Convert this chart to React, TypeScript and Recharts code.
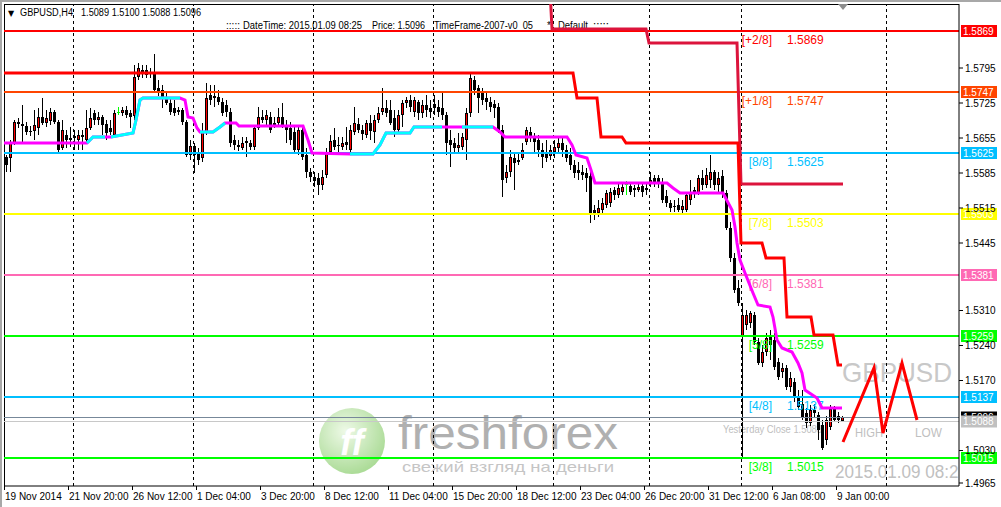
import React from 'react';
import { ComposedChart, Bar, Line, XAxis, YAxis, ReferenceLine } from 'recharts';

const FONT = "'Liberation Sans', Arial, sans-serif";

// GBPUSD H4 bars, 19 Nov 2014 .. 9 Jan 2015
const openP = [
  1.5617, 1.5615, 1.5645, 1.5687, 1.5683, 1.5679, 1.5667, 1.5669, 1.5675, 1.5697,
  1.5685, 1.5689, 1.5707, 1.5687, 1.5635, 1.5661, 1.5651, 1.5655, 1.5651, 1.5661,
  1.5651, 1.5675, 1.5705, 1.5691, 1.5697, 1.5683, 1.5675, 1.5661, 1.5707, 1.5705,
  1.5711, 1.5705, 1.5699, 1.5777, 1.5791, 1.5791, 1.5787, 1.5785, 1.5755, 1.5751,
  1.5737, 1.5725, 1.5715, 1.5707, 1.5711, 1.5687, 1.5621, 1.5639, 1.5627, 1.5615,
  1.5667, 1.5741, 1.5735, 1.5737, 1.5727, 1.5721, 1.5707, 1.5651, 1.5641, 1.5635,
  1.5649, 1.5645, 1.5637, 1.5675, 1.5697, 1.5691, 1.5697, 1.5681, 1.5685, 1.5697,
  1.5681, 1.5675, 1.5667, 1.5631, 1.5671, 1.5621, 1.5587, 1.5577, 1.5575, 1.5561,
  1.5581, 1.5627, 1.5651, 1.5641, 1.5637, 1.5647, 1.5631, 1.5667, 1.5683, 1.5671,
  1.5661, 1.5685, 1.5667, 1.5691, 1.5707, 1.5715, 1.5711, 1.5695, 1.5671, 1.5701,
  1.5725, 1.5731, 1.5707, 1.5727, 1.5705, 1.5721, 1.5715, 1.5723, 1.5717, 1.5715,
  1.5701, 1.5651, 1.5645, 1.5635, 1.5637, 1.5651, 1.5705, 1.5771, 1.5755, 1.5745,
  1.5735, 1.5727, 1.5723, 1.5717, 1.5671, 1.5575, 1.5587, 1.5615, 1.5611, 1.5615,
  1.5647, 1.5667, 1.5657, 1.5651, 1.5631, 1.5627, 1.5619, 1.5627, 1.5635, 1.5645,
  1.5631, 1.5621, 1.5601, 1.5591, 1.5587, 1.5585, 1.5579, 1.5511, 1.5505, 1.5511,
  1.5521, 1.5525, 1.5551, 1.5541, 1.5547, 1.5563, 1.5559, 1.5555, 1.5551, 1.5559,
  1.5555, 1.5565, 1.5575, 1.5575, 1.5567, 1.5539, 1.5525, 1.5519, 1.5521, 1.5511,
  1.5511, 1.5531, 1.5551, 1.5545, 1.5575, 1.5561, 1.5571, 1.5587, 1.5561, 1.5579,
  1.5545, 1.5475, 1.5415, 1.5355, 1.5257, 1.5281, 1.5285, 1.5301, 1.5247, 1.5205,
  1.5227, 1.5259, 1.5251, 1.5207, 1.5187, 1.5195, 1.5157, 1.5167, 1.5139, 1.5123,
  1.5105, 1.5085, 1.5111, 1.5101, 1.5081, 1.5051, 1.5077, 1.5113, 1.5099, 1.5089,
];
const highP = [
  1.5621, 1.5651, 1.5691, 1.5695, 1.5721, 1.5687, 1.5679, 1.5711, 1.5715, 1.5735,
  1.5711, 1.5715, 1.5711, 1.5691, 1.5691, 1.5671, 1.5677, 1.5671, 1.5671, 1.5671,
  1.5711, 1.5715, 1.5711, 1.5707, 1.5701, 1.5691, 1.5691, 1.5711, 1.5717, 1.5717,
  1.5719, 1.5711, 1.5801, 1.5805, 1.5801, 1.5801, 1.5795, 1.5823, 1.5771, 1.5761,
  1.5745, 1.5735, 1.5731, 1.5717, 1.5715, 1.5691, 1.5651, 1.5645, 1.5635, 1.5685,
  1.5765, 1.5761, 1.5761, 1.5751, 1.5735, 1.5731, 1.5715, 1.5661, 1.5651, 1.5657,
  1.5657, 1.5651, 1.5681, 1.5717, 1.5711, 1.5711, 1.5707, 1.5697, 1.5715, 1.5725,
  1.5691, 1.5687, 1.5681, 1.5681, 1.5681, 1.5635, 1.5595, 1.5587, 1.5585, 1.5591,
  1.5635, 1.5661, 1.5675, 1.5657, 1.5657, 1.5677, 1.5681, 1.5717, 1.5695, 1.5681,
  1.5691, 1.5701, 1.5701, 1.5717, 1.5755, 1.5731, 1.5731, 1.5711, 1.5711, 1.5731,
  1.5737, 1.5741, 1.5737, 1.5731, 1.5731, 1.5741, 1.5731, 1.5741, 1.5731, 1.5745,
  1.5707, 1.5671, 1.5655, 1.5665, 1.5665, 1.5715, 1.5785, 1.5779, 1.5761, 1.5755,
  1.5745, 1.5737, 1.5731, 1.5725, 1.5681, 1.5601, 1.5631, 1.5627, 1.5625, 1.5645,
  1.5677, 1.5677, 1.5665, 1.5661, 1.5645, 1.5651, 1.5641, 1.5651, 1.5657, 1.5655,
  1.5641, 1.5635, 1.5611, 1.5607, 1.5601, 1.5595, 1.5587, 1.5521, 1.5531, 1.5535,
  1.5551, 1.5555, 1.5557, 1.5565, 1.5565, 1.5569, 1.5565, 1.5561, 1.5563, 1.5567,
  1.5565, 1.5587, 1.5581, 1.5581, 1.5575, 1.5551, 1.5531, 1.5531, 1.5535, 1.5531,
  1.5545, 1.5571, 1.5557, 1.5581, 1.5591, 1.5595, 1.5621, 1.5591, 1.5587, 1.5591,
  1.5551, 1.5487, 1.5425, 1.5371, 1.5325, 1.5311, 1.5309, 1.5307, 1.5255, 1.5241,
  1.5265, 1.5271, 1.5265, 1.5215, 1.5205, 1.5201, 1.5187, 1.5175, 1.5151, 1.5151,
  1.5115, 1.5121, 1.5123, 1.5107, 1.5091, 1.5099, 1.5121, 1.5119, 1.5107, 1.5100,
];
const lowP = [
  1.5587, 1.5587, 1.5641, 1.5675, 1.5645, 1.5661, 1.5659, 1.5651, 1.5661, 1.5681,
  1.5677, 1.5681, 1.5683, 1.5627, 1.5631, 1.5635, 1.5637, 1.5631, 1.5631, 1.5631,
  1.5645, 1.5671, 1.5681, 1.5681, 1.5661, 1.5651, 1.5661, 1.5657, 1.5701, 1.5699,
  1.5695, 1.5675, 1.5691, 1.5771, 1.5775, 1.5775, 1.5775, 1.5747, 1.5739, 1.5715,
  1.5721, 1.5701, 1.5699, 1.5701, 1.5681, 1.5617, 1.5611, 1.5585, 1.5601, 1.5607,
  1.5661, 1.5721, 1.5717, 1.5721, 1.5699, 1.5697, 1.5637, 1.5631, 1.5629, 1.5631,
  1.5617, 1.5631, 1.5631, 1.5671, 1.5685, 1.5677, 1.5665, 1.5675, 1.5681, 1.5675,
  1.5645, 1.5641, 1.5625, 1.5621, 1.5611, 1.5575, 1.5567, 1.5557, 1.5541, 1.5551,
  1.5575, 1.5621, 1.5631, 1.5627, 1.5631, 1.5631, 1.5627, 1.5661, 1.5665, 1.5651,
  1.5655, 1.5651, 1.5645, 1.5685, 1.5701, 1.5697, 1.5681, 1.5657, 1.5665, 1.5677,
  1.5715, 1.5707, 1.5697, 1.5691, 1.5695, 1.5697, 1.5695, 1.5701, 1.5697, 1.5691,
  1.5621, 1.5597, 1.5627, 1.5625, 1.5631, 1.5611, 1.5697, 1.5741, 1.5705, 1.5721,
  1.5711, 1.5707, 1.5695, 1.5665, 1.5537, 1.5565, 1.5577, 1.5551, 1.5601, 1.5611,
  1.5641, 1.5647, 1.5625, 1.5617, 1.5595, 1.5607, 1.5611, 1.5615, 1.5627, 1.5617,
  1.5607, 1.5591, 1.5575, 1.5571, 1.5571, 1.5547, 1.5485, 1.5491, 1.5497, 1.5501,
  1.5515, 1.5517, 1.5531, 1.5535, 1.5541, 1.5541, 1.5541, 1.5537, 1.5547, 1.5537,
  1.5541, 1.5557, 1.5557, 1.5555, 1.5525, 1.5517, 1.5507, 1.5507, 1.5507, 1.5505,
  1.5507, 1.5521, 1.5535, 1.5541, 1.5551, 1.5555, 1.5555, 1.5551, 1.5547, 1.5535,
  1.5471, 1.5407, 1.5345, 1.5319, 1.5017, 1.5271, 1.5275, 1.5241, 1.5201, 1.5197,
  1.5219, 1.5211, 1.5191, 1.5171, 1.5175, 1.5151, 1.5147, 1.5127, 1.5111, 1.5091,
  1.5075, 1.5079, 1.5097, 1.5051, 1.5031, 1.5041, 1.5071, 1.5087, 1.5085, 1.5088,
];
const closeP = [
  1.5601, 1.5645, 1.5687, 1.5683, 1.5679, 1.5667, 1.5669, 1.5681, 1.5697, 1.5685,
  1.5695, 1.5707, 1.5687, 1.5631, 1.5671, 1.5651, 1.5655, 1.5659, 1.5661, 1.5657,
  1.5675, 1.5695, 1.5691, 1.5697, 1.5681, 1.5665, 1.5667, 1.5705, 1.5707, 1.5711,
  1.5701, 1.5697, 1.5777, 1.5795, 1.5783, 1.5781, 1.5783, 1.5751, 1.5747, 1.5737,
  1.5725, 1.5707, 1.5705, 1.5711, 1.5687, 1.5621, 1.5639, 1.5621, 1.5611, 1.5667,
  1.5735, 1.5731, 1.5739, 1.5727, 1.5705, 1.5707, 1.5645, 1.5641, 1.5637, 1.5645,
  1.5645, 1.5637, 1.5675, 1.5697, 1.5691, 1.5701, 1.5671, 1.5685, 1.5697, 1.5681,
  1.5671, 1.5651, 1.5631, 1.5671, 1.5617, 1.5587, 1.5577, 1.5569, 1.5561, 1.5577,
  1.5627, 1.5649, 1.5637, 1.5639, 1.5645, 1.5641, 1.5671, 1.5685, 1.5671, 1.5663,
  1.5685, 1.5669, 1.5691, 1.5705, 1.5715, 1.5705, 1.5685, 1.5671, 1.5701, 1.5725,
  1.5731, 1.5717, 1.5731, 1.5705, 1.5721, 1.5711, 1.5707, 1.5715, 1.5707, 1.5701,
  1.5645, 1.5641, 1.5635, 1.5641, 1.5657, 1.5705, 1.5775, 1.5751, 1.5735, 1.5731,
  1.5727, 1.5717, 1.5715, 1.5671, 1.5571, 1.5587, 1.5617, 1.5605, 1.5607, 1.5631,
  1.5671, 1.5655, 1.5647, 1.5631, 1.5617, 1.5615, 1.5631, 1.5637, 1.5645, 1.5631,
  1.5615, 1.5601, 1.5585, 1.5585, 1.5581, 1.5575, 1.5505, 1.5505, 1.5515, 1.5525,
  1.5545, 1.5547, 1.5541, 1.5555, 1.5557, 1.5563, 1.5547, 1.5551, 1.5557, 1.5547,
  1.5551, 1.5571, 1.5567, 1.5567, 1.5531, 1.5525, 1.5515, 1.5517, 1.5511, 1.5519,
  1.5541, 1.5547, 1.5545, 1.5575, 1.5561, 1.5581, 1.5587, 1.5561, 1.5575, 1.5545,
  1.5475, 1.5415, 1.5351, 1.5325, 1.5301, 1.5301, 1.5305, 1.5247, 1.5205, 1.5227,
  1.5255, 1.5241, 1.5197, 1.5177, 1.5195, 1.5157, 1.5175, 1.5135, 1.5117, 1.5097,
  1.5085, 1.5111, 1.5105, 1.5071, 1.5035, 1.5091, 1.5113, 1.5091, 1.5091, 1.5096,
];

const dateLabels = [
  '19 Nov 2014', '21 Nov 20:00', '26 Nov 12:00', '1 Dec 04:00', '3 Dec 20:00', '8 Dec 12:00', '11 Dec 04:00',
  '15 Dec 20:00', '18 Dec 12:00', '23 Dec 04:00', '26 Dec 20:00', '31 Dec 12:00', '6 Jan 08:00', '9 Jan 00:00',
];
const dateBars = [0, 16, 32, 48, 64, 80, 96, 112, 128, 144, 160, 176, 192, 208];
const separatorBars = [17.25, 47.25, 77.25, 107.25, 137.25, 161.25, 184.25, 220.5];
const priceTicks = [1.5795, 1.5725, 1.5655, 1.5585, 1.5515, 1.5445, 1.531, 1.524, 1.517, 1.503, 1.4965];

// Murrey Math levels
const murreyPrices = [1.5869, 1.5747, 1.5625, 1.5503, 1.5381, 1.5259, 1.5137, 1.5015];
const murreyTags = ['[+2/8]', '[+1/8]', '[8/8]', '[7/8]', '[6/8]', '[5/8]', '[4/8]', '[3/8]'];
const murreyColors = ['#ff0000', '#ff4500', '#00bfff', '#ffff00', '#ff69b4', '#00ff00', '#00bfff', '#00ff00'];

const bidPrice = 1.5096;
const yesterdayClose = 1.5088;

// trend line: magenta while falling, cyan while rising
const trendBars = [
  0, 20.75, 22.25, 25.25, 26.75, 32.25, 33, 34, 34.75, 44, 45.25, 46, 47.25, 48.25, 49, 52.25, 54, 55.25, 58, 58.75,
  74.75, 76, 77, 86.5, 92.25, 94, 95.5, 101.5, 102.5, 109.5, 114.5, 122.25, 124, 125.25, 140.75, 142, 143, 145.75,
  146.75, 147.75, 165.75, 167.25, 169, 179.75, 182, 182.75, 183.25, 184, 185.25, 187.25, 188.5, 191.5, 192.25,
  193.25, 194.5, 197, 198.5, 199.5, 200.25, 203.25, 204.5, 209.5,
];
const trendPrices = [
  1.5645, 1.5645, 1.5657, 1.5657, 1.5657, 1.5665, 1.5691, 1.5731, 1.5735, 1.5735, 1.5731, 1.5697, 1.5695, 1.5675,
  1.5667, 1.5667, 1.5677, 1.5685, 1.5685, 1.5679, 1.5679, 1.5651, 1.5625, 1.5623, 1.5623, 1.5641, 1.5665, 1.5665,
  1.5677, 1.5677, 1.5677, 1.5677, 1.5667, 1.5657, 1.5657, 1.5641, 1.5621, 1.5615, 1.5591, 1.5565, 1.5565, 1.5555,
  1.5545, 1.5545, 1.5511, 1.5477, 1.5445, 1.5411, 1.5385, 1.5345, 1.5321, 1.5317, 1.5297, 1.5251, 1.5235, 1.5227,
  1.5205, 1.5185, 1.5151, 1.5135, 1.5115, 1.5115,
];
const trendUpRuns = [[1, 3], [4, 9], [14, 17], [23, 29], [30, 31]];

// trailing stop lines
const stopBars = [0, 142.25, 143.25, 148.25, 149.25, 154.5, 155.5, 183.5, 184.25, 189.5, 190.5, 195, 195.75, 201.75, 202.5, 207.25, 208.5, 209.5];
const stopPrices = [1.5785, 1.5785, 1.5735, 1.5735, 1.5657, 1.5657, 1.5645, 1.5645, 1.5445, 1.5445, 1.5415, 1.5415, 1.5297, 1.5297, 1.5261, 1.5261, 1.5201, 1.5201];
const upperBars = [136.5, 137, 160.5, 161.25, 183.25, 184.25, 209.75];
const upperPrices = [1.5951, 1.5873, 1.5873, 1.5845, 1.5845, 1.5563, 1.5563];

// HIGH / LOW zigzag sign
const zigBars = [209.75, 217.5, 219.75, 224.5, 228.25];
const zigPrices = [1.5047, 1.5195, 1.5065, 1.5205, 1.5091];

const candles = closeP.map((c, i) => ({
  v: i + 0.5, range: [lowP[i], highP[i]], o: openP[i], h: highP[i], l: lowP[i], c,
}));
const toPts = (bars: number[], prices: number[]) => bars.map((v, i) => ({ v, p: prices[i] }));
const trendData = toPts(trendBars, trendPrices);

const CandleShape = (props: any) => {
  const { x, width, payload } = props;
  let { y, height } = props;
  if (height < 0) { y += height; height = -height; }
  const { o, h, l, c } = payload;
  const cx = Math.round(x + width / 2);
  const k = h === l ? 0 : height / (h - l);
  const yO = y + (h - o) * k;
  const yC = y + (h - c) * k;
  const top = Math.round(Math.min(yO, yC));
  let bot = Math.round(Math.max(yO, yC));
  if (bot - top < 1) bot = top + 1;
  const doji = o === c;
  return (
    <g shapeRendering="crispEdges">
      <rect x={cx} y={Math.round(y)} width={1} height={Math.max(1, Math.round(height))} fill={doji ? '#00ff00' : '#000'} />
      {doji ? (
        <rect x={cx - 1} y={top} width={3} height={1} fill="#00ff00" />
      ) : (
        <>
          <rect x={cx - 1} y={top} width={3} height={bot - top} fill="#000" />
          {c > o && bot - top > 2 && <rect x={cx} y={top + 1} width={1} height={bot - top - 2} fill="#ff0000" />}
        </>
      )}
    </g>
  );
};

const LevelLabel = (props: any) => {
  const { viewBox, tag, price, color, boxColor } = props;
  if (!viewBox) return null;
  const { x, y, width } = viewBox;
  return (
    <g fontFamily={FONT}>
      {tag && <text x={x + 768} y={y + 12.5} fontSize={12} fill={color} textAnchor="end">{tag}</text>}
      {tag && <text x={x + 783} y={y + 12.5} fontSize={12} fill={color}>{price.toFixed(4)}</text>}
      <rect x={x + width + 2} y={y - 6} width={36} height={12} fill={boxColor} />
      <text x={x + width + 4} y={y + 3.5} fontSize={10} fill="#fff">{price.toFixed(4)}</text>
    </g>
  );
};

const DateTick = (props: any) => {
  const { x, y, index } = props;
  return (
    <g>
      <line x1={Math.round(x) - 1.5} x2={Math.round(x) - 1.5} y1={y - 4} y2={y} stroke="#000" />
      <text x={x - 1} y={y + 10} fontSize={10} fontFamily={FONT} fill="#000">{dateLabels[index]}</text>
    </g>
  );
};

const PriceTick = (props: any) => (
  <text x={props.x} y={props.y} dy={3.5} fontSize={10} fontFamily={FONT} fill="#000" textAnchor="start">
    {Number(props.payload.value).toFixed(4)}
  </text>
);

const Backdrop = () => (
  <svg width={1001} height={507} style={{ position: 'absolute', left: 0, top: 0 }} fontFamily={FONT}>
    <defs>
      <clipPath id="plotClip"><rect x={4} y={4} width={955} height={482} /></clipPath>
      <radialGradient id="ffBall" cx="40%" cy="35%" r="70%">
        <stop offset="0%" stopColor="#e4f6d8" />
        <stop offset="100%" stopColor="#6fc24c" />
      </radialGradient>
    </defs>
    <rect width={1001} height={507} fill="#fff" />
    <rect x={0} y={0} width={1001} height={2} fill="#a8a8a8" />
    <rect x={0} y={0} width={2} height={507} fill="#a8a8a8" />
    <line x1={4} x2={959} y1={4.5} y2={4.5} stroke="#000" />
    <line x1={4.5} x2={4.5} y1={4} y2={486} stroke="#000" />
    <polygon points="838,4 848,4 843,10" fill="#8c8c8c" />
    <text x={8} y={16} fontSize={8} fontFamily="DejaVu Sans" fill="#000">▼</text>
    <text x={20} y={16} fontSize={10} fill="#000" textLength={53} lengthAdjust="spacingAndGlyphs">GBPUSD,H4</text>
    <text x={81} y={16} fontSize={10} fill="#000" textLength={120} lengthAdjust="spacingAndGlyphs">1.5089 1.5100 1.5088 1.5096</text>
    <g fontSize={10} fill="#000">
      <text x={226} y={29} textLength={14} lengthAdjust="spacingAndGlyphs">:::::</text>
      <text x={243} y={29} textLength={119} lengthAdjust="spacingAndGlyphs">DateTime: 2015.01.09 08:25</text>
      <text x={372} y={29} textLength={53} lengthAdjust="spacingAndGlyphs">Price: 1.5096</text>
      <text x={434} y={29} textLength={99} lengthAdjust="spacingAndGlyphs">TimeFrame-2007-v0_05</text>
      <text x={547} y={29}>*</text>
      <text x={558} y={29} textLength={30} lengthAdjust="spacingAndGlyphs">Default</text>
      <text x={593} y={29} textLength={16} lengthAdjust="spacingAndGlyphs">:::::</text>
    </g>
    <g clipPath="url(#plotClip)">
      <g opacity={0.6}>
        <circle cx={352} cy={441} r={33} fill="url(#ffBall)" />
        <text x={352} y={455} fontSize={36} fontStyle="italic" fontWeight="bold" fill="#fff" textAnchor="middle">ff</text>
        <text x={398} y={449} fontSize={46} fill="#7c7c7c" textLength={220} lengthAdjust="spacingAndGlyphs">freshforex</text>
        <text x={402} y={472} fontSize={15} fill="#a0a0a0" textLength={212} lengthAdjust="spacingAndGlyphs">свежий взгляд на деньги</text>
      </g>
      <text x={723} y={433} fontSize={11} fill="#c0c0c0" textLength={99} lengthAdjust="spacingAndGlyphs">Yesterday Close 1.5088</text>
      <text x={842} y={382} fontSize={28} fill="#c8c8c8" textLength={110} lengthAdjust="spacingAndGlyphs">GBPUSD</text>
      <text x={855} y={437} fontSize={13} fill="#c0c0c0" textLength={28} lengthAdjust="spacingAndGlyphs">HIGH</text>
      <text x={915} y={437} fontSize={13} fill="#c0c0c0" textLength={27} lengthAdjust="spacingAndGlyphs">LOW</text>
      <text x={835} y={478} fontSize={18} fill="#c0c0c0" textLength={133} lengthAdjust="spacingAndGlyphs">2015.01.09 08:25</text>
    </g>
  </svg>
);

export default function App() {
  return (
    <div style={{ position: 'absolute', left: 0, top: 0, width: 1001, height: 507, overflow: 'hidden', background: '#fff' }}>
      <Backdrop />
      <div style={{ position: 'absolute', left: 0, top: 0 }}>
        <ComposedChart width={1001} height={507} data={candles} margin={{ top: 4, right: 0, bottom: 0, left: 4 }}>
          <XAxis
            dataKey="v" type="number" domain={[0, 238.75]} allowDataOverflow
            ticks={dateBars.map((b) => b + 0.5)} interval={0} height={21}
            tickLine={false} tickSize={4} tickMargin={0} axisLine={{ stroke: '#000' }}
            tick={(p: any) => <DateTick {...p} />}
          />
          <YAxis
            orientation="right" type="number" domain={[1.4959, 1.5923]} allowDataOverflow
            ticks={priceTicks} interval={0} width={42} tickSize={4} tickMargin={2}
            axisLine={{ stroke: '#000' }} tickLine={{ stroke: '#000' }}
            tick={(p: any) => <PriceTick {...p} />}
          />
          {separatorBars.map((v) => (
            <ReferenceLine key={'s' + v} x={v} stroke="#000" strokeDasharray="3 3" shapeRendering="crispEdges" />
          ))}
          <Bar dataKey="range" barSize={3} shape={(p: any) => <CandleShape {...p} />} isAnimationActive={false} />
          {murreyPrices.map((p, i) => (
            <ReferenceLine
              key={'m' + i} y={p} stroke={murreyColors[i]} strokeWidth={2}
              label={<LevelLabel tag={murreyTags[i]} price={p} color={murreyColors[i]} boxColor={murreyColors[i]} />}
            />
          ))}
          <ReferenceLine y={bidPrice} stroke="#778899" label={<LevelLabel price={bidPrice} boxColor="#000" />} />
          <ReferenceLine y={yesterdayClose} stroke="#c8c8c8" label={<LevelLabel price={yesterdayClose} boxColor="#c0c0c0" />} />
          <Line data={toPts(upperBars, upperPrices)} dataKey="p" type="linear" stroke="#dc143c" strokeWidth={3} dot={false} activeDot={false} isAnimationActive={false} />
          <Line data={toPts(stopBars, stopPrices)} dataKey="p" type="linear" stroke="#ff0000" strokeWidth={3} dot={false} activeDot={false} isAnimationActive={false} />
          <Line data={trendData} dataKey="p" type="linear" stroke="#ff00ff" strokeWidth={3} dot={false} activeDot={false} isAnimationActive={false} />
          {trendUpRuns.map(([a, b]) => (
            <Line key={'u' + a} data={trendData.slice(a, b + 1)} dataKey="p" type="linear" stroke="#00ffff" strokeWidth={3} dot={false} activeDot={false} isAnimationActive={false} />
          ))}
          <Line data={toPts(zigBars, zigPrices)} dataKey="p" type="linear" stroke="#ff0000" strokeWidth={3} dot={false} activeDot={false} isAnimationActive={false} />
        </ComposedChart>
      </div>
    </div>
  );
}
